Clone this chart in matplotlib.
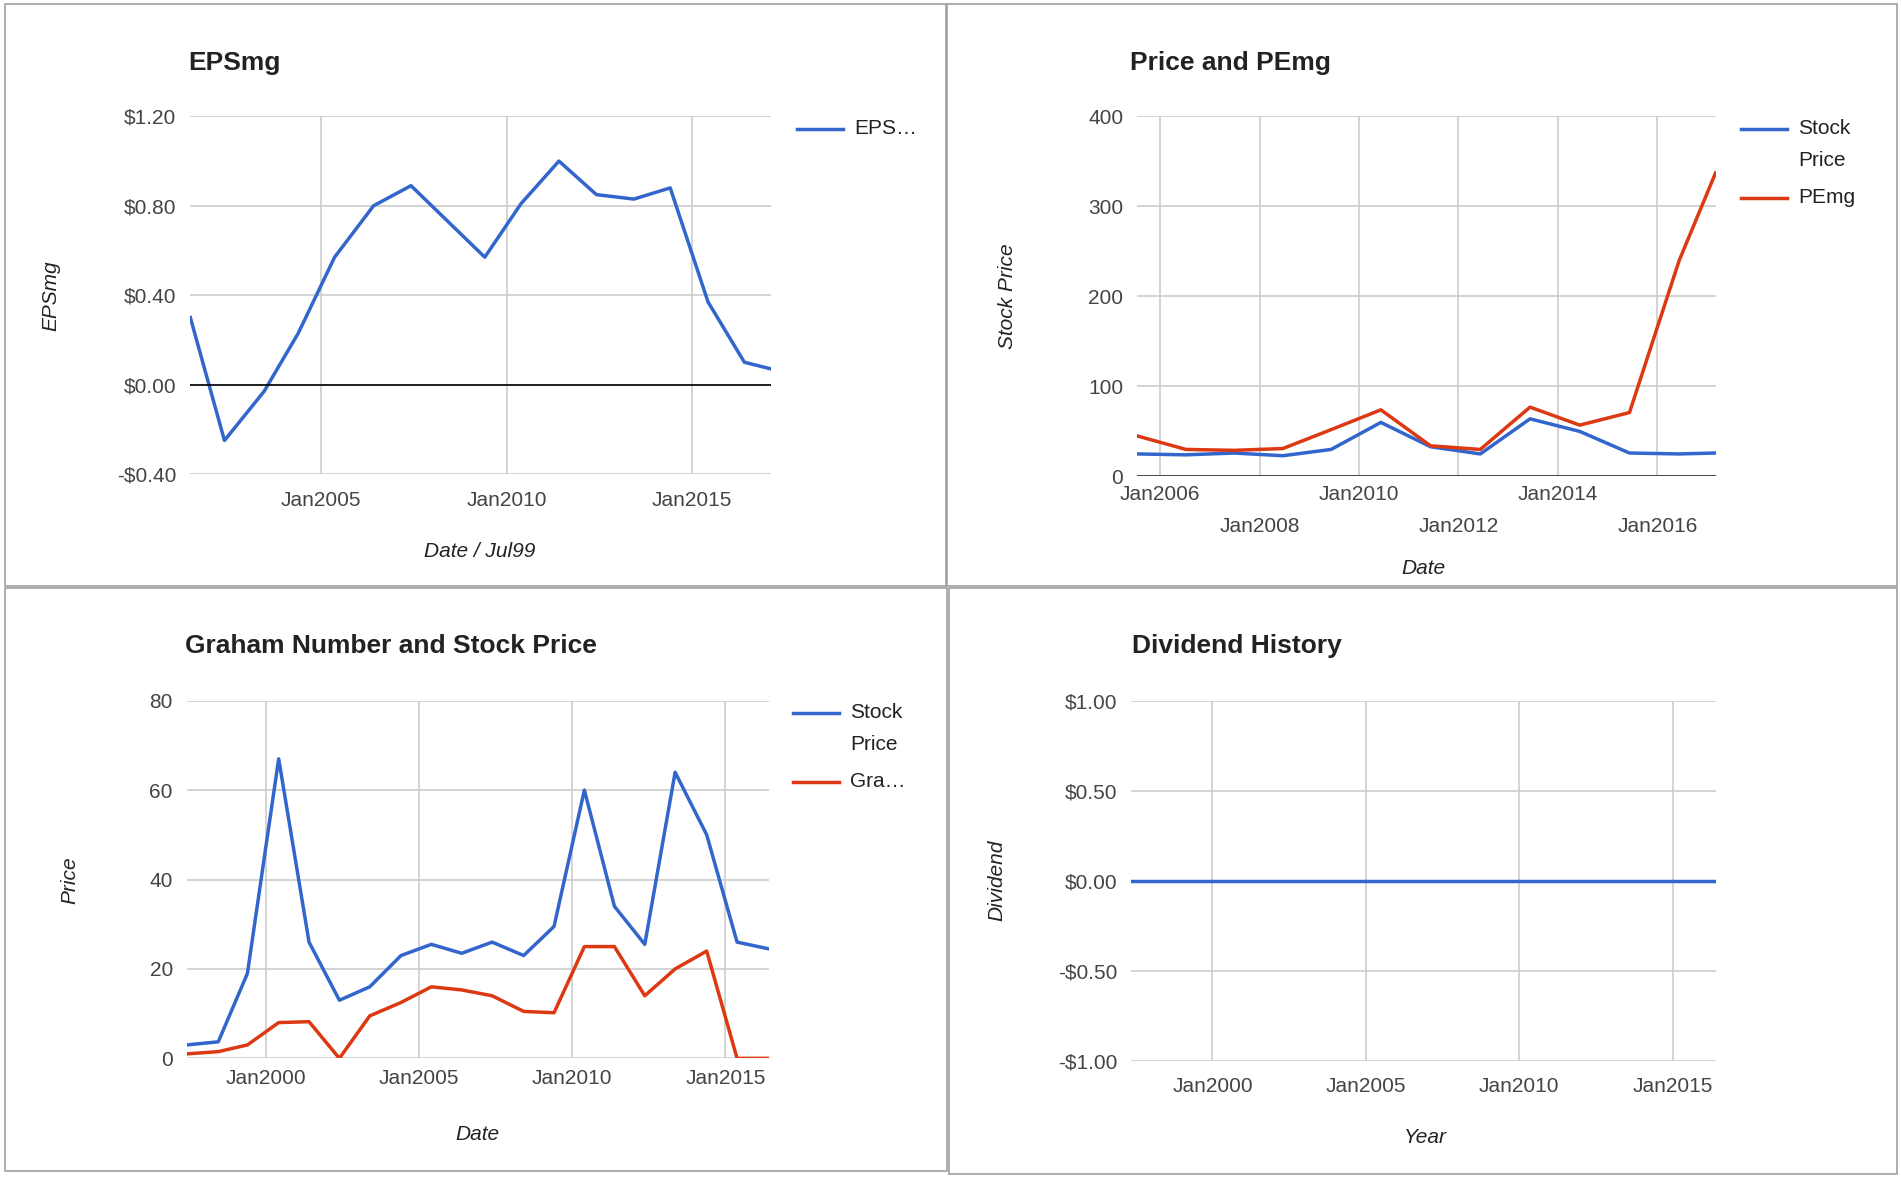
import matplotlib.pyplot as plt
from matplotlib.patches import Rectangle
from matplotlib.ticker import FuncFormatter

plt.rcParams['font.family'] = 'Liberation Sans'

W, H = 1568.0, 975.0
BLUE = '#3366cc'
RED = '#dc3912'
GRID = '#cccccc'
TXT = '#222222'
FS = 15

# EPSmg (x in decimal years)
eps_years = [2001.47, 2002.39, 2003.46, 2004.38, 2005.36, 2006.41, 2007.42, 2009.41, 2010.39, 2011.41,
             2012.42, 2013.43, 2014.41, 2015.43, 2016.41, 2017.13]
eps_vals = [0.30, -0.25, -0.03, 0.23, 0.57, 0.80, 0.89, 0.57, 0.81, 1.00, 0.85, 0.83, 0.88, 0.37, 0.10, 0.07]

# Price and PEmg
pe_years = [2005.54, 2006.52, 2007.49, 2008.47, 2009.44, 2010.44, 2011.44, 2012.44, 2013.44, 2014.44,
            2015.44, 2016.44, 2017.17]
pe_price = [25, 24, 26, 23, 30, 60, 33, 25, 64, 50, 26, 25, 26]
pe_pemg = [45, 30, 29, 31, 52, 74, 34, 30, 77, 57, 71, 240, 337]

# Graham number and stock price
gr_years = [1997.43, 1998.46, 1999.41, 2000.43, 2001.42, 2002.41, 2003.40, 2004.42, 2005.41, 2006.40,
            2007.39, 2008.42, 2009.41, 2010.40, 2011.38, 2012.37, 2013.36, 2014.39, 2015.38, 2016.41]
gr_price = [3, 3.7, 19, 67, 26, 13, 16, 23, 25.5, 23.5, 26, 23, 29.5, 60, 34, 25.5, 64, 50, 26, 24.5]
gr_graham = [1, 1.5, 3, 8, 8.2, 0, 9.5, 12.5, 16, 15.3, 14, 10.5, 10.2, 25, 25, 14, 20, 24, 0, 0]

# Dividend history
div_years = [1997.35, 2016.4]
div_vals = [0.0, 0.0]

fig = plt.figure(figsize=(19.01, 11.82), dpi=100)

def box(x0, y0, x1, y1):
    return [x0 / W, 1 - y1 / H, (x1 - x0) / W, (y1 - y0) / H]

for (x0, y0, x1, y1) in [(4, 3, 780, 483), (781, 3, 1565, 483), (4, 485, 781, 966), (783, 485, 1565, 968)]:
    fig.patches.append(Rectangle((x0 / W, 1 - y1 / H), (x1 - x0) / W, (y1 - y0) / H,
                                 transform=fig.transFigure, fill=False, ec='#a0a0a0', lw=1.2))

def txt(x, y, s, **kw):
    fig.text(x / W, 1 - y / H, s, color=TXT, **kw)

def style(ax, xlim, ylim, yticks, xticks, fmt):
    ax.set_xlim(*xlim)
    ax.set_ylim(*ylim)
    ax.set_yticks(yticks)
    ax.set_xticks(xticks)
    ax.set_xticklabels([f'Jan{int(t)}' for t in xticks])
    ax.yaxis.set_major_formatter(FuncFormatter(fmt))
    ax.grid(True, color=GRID, lw=1.2)
    ax.set_axisbelow(True)
    for s in ax.spines.values():
        s.set_visible(False)
    ax.tick_params(length=0, labelsize=FS, colors='#444444')
    ax.tick_params(axis='x', pad=12)
    ax.tick_params(axis='y', pad=10)

def dollar(v, _):
    return f'-${abs(v):.2f}' if v < 0 else f'${v:.2f}'

def legend_line(x, y, color):
    fig.lines.append(plt.Line2D([x / W, (x + 38) / W], [1 - y / H] * 2, color=color, lw=2.5,
                                transform=fig.transFigure))

# Panel 1
ax1 = fig.add_axes(box(157, 96, 636, 391))
ax1.plot(eps_years, eps_vals, color=BLUE, lw=2.5)
style(ax1, (2001.47, 2017.13), (-0.4, 1.2), [-0.4, 0, 0.4, 0.8, 1.2], [2005, 2010, 2015], dollar)
ax1.axhline(0, color='black', lw=1.2)
txt(155, 52, 'EPSmg', fontsize=19, weight='bold', va='center')
txt(42, 244, 'EPSmg', fontsize=FS, style='italic', rotation=90, va='center', ha='center')
txt(396, 455, 'Date / Jul99', fontsize=FS, style='italic', va='center', ha='center')
legend_line(657, 106, BLUE)
txt(705, 106, 'EPS…', fontsize=FS, va='center')

# Panel 2
ax2 = fig.add_axes(box(938, 96, 1415, 393))
ax2.plot(pe_years, pe_price, color=BLUE, lw=2.5)
ax2.plot(pe_years, pe_pemg, color=RED, lw=2.5)
style(ax2, (2005.54, 2017.17), (0, 400), [0, 100, 200, 300, 400], [2006, 2008, 2010, 2012, 2014, 2016],
      lambda v, _: f'{int(v)}')
ax2.axhline(0, color='#333333', lw=1.2)
ax2.tick_params(axis='x', pad=6)
for i, lab in enumerate(ax2.get_xticklabels()):
    if i % 2 == 1:
        lab.set_y(-0.09)
txt(932, 52, 'Price and PEmg', fontsize=19, weight='bold', va='center')
txt(831, 244, 'Stock Price', fontsize=FS, style='italic', rotation=90, va='center', ha='center')
txt(1174, 469, 'Date', fontsize=FS, style='italic', va='center', ha='center')
legend_line(1436, 106, BLUE)
txt(1483, 106, 'Stock', fontsize=FS, va='center')
txt(1483, 132, 'Price', fontsize=FS, va='center')
legend_line(1436, 163, RED)
txt(1483, 163, 'PEmg', fontsize=FS, va='center')

# Panel 3
ax3 = fig.add_axes(box(154, 578, 634, 873))
ax3.plot(gr_years, gr_price, color=BLUE, lw=2.5)
ax3.plot(gr_years, gr_graham, color=RED, lw=2.5)
style(ax3, (1997.43, 2016.41), (0, 80), [0, 20, 40, 60, 80], [2000, 2005, 2010, 2015],
      lambda v, _: f'{int(v)}')
ax3.tick_params(axis='x', pad=8)
txt(153, 533, 'Graham Number and Stock Price', fontsize=19, weight='bold', va='center')
txt(58, 726, 'Price', fontsize=FS, style='italic', rotation=90, va='center', ha='center')
txt(394, 936, 'Date', fontsize=FS, style='italic', va='center', ha='center')
legend_line(654, 588, BLUE)
txt(701, 588, 'Stock', fontsize=FS, va='center')
txt(701, 614, 'Price', fontsize=FS, va='center')
legend_line(654, 645, RED)
txt(701, 645, 'Gra…', fontsize=FS, va='center')

# Panel 4
ax4 = fig.add_axes(box(933, 578, 1415, 875))
ax4.plot(div_years, div_vals, color=BLUE, lw=2.5)
style(ax4, (1997.35, 2016.4), (-1, 1), [-1, -0.5, 0, 0.5, 1], [2000, 2005, 2010, 2015], dollar)
txt(934, 533, 'Dividend History', fontsize=19, weight='bold', va='center')
txt(822, 726, 'Dividend', fontsize=FS, style='italic', rotation=90, va='center', ha='center')
txt(1176, 938, 'Year', fontsize=FS, style='italic', va='center', ha='center')

fig.savefig('out.png', dpi=100)
